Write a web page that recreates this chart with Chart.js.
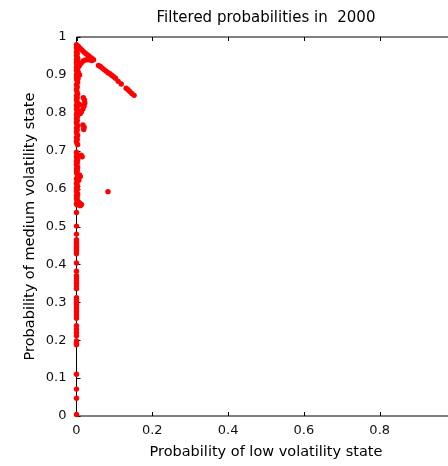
<!DOCTYPE html>
<html>
<head>
<meta charset="utf-8">
<script src="https://cdn.jsdelivr.net/npm/chart.js@4/dist/chart.umd.min.js"></script>
<style>
  html, body { margin: 0; padding: 0; background: #fff; overflow: hidden; }
  #wrap { width: 470px; height: 466px; }
</style>
</head>
<body>
<div id="wrap"><canvas id="probChart" width="470" height="466"></canvas></div>
<script>
// Data
const titleText = 'Filtered probabilities in  2000';
const xTitle = 'Probability of low volatility state';
const yTitle = 'Probability of medium volatility state';

const xTickValues = [0, 0.2, 0.4, 0.6, 0.8, 1];
const xTickLabels = ['0', '0.2', '0.4', '0.6', '0.8', '1'];
const yTickValues = [0, 0.1, 0.2, 0.3, 0.4, 0.5, 0.6, 0.7, 0.8, 0.9, 1];
const yTickLabels = ['0', '0.1', '0.2', '0.3', '0.4', '0.5', '0.6', '0.7', '0.8', '0.9', '1'];

// column hugging x = 0, upper part
const colLow = [0.000, 0.002, 0.000, 0.003, 0.001, 0.000, 0.002, 0.000, 0.001, 0.003, 0.000, 0.002, 0.000, 0.001, 0.003, 0.000,
  0.002, 0.000, 0.004, 0.001, 0.000, 0.003, 0.000, 0.001, 0.003, 0.000, 0.002, 0.000, 0.001, 0.003, 0.000, 0.002,
  0.000, 0.001, 0.003, 0.000, 0.002, 0.000, 0.004, 0.001, 0.000, 0.003, 0.000, 0.002, 0.000, 0.001, 0.003, 0.000,
  0.002, 0.000, 0.001, 0.003, 0.000, 0.002, 0.000, 0.001, 0.003, 0.000, 0.001, 0.002, 0.000, 0.001, 0.003, 0.000,
  0.002, 0.000, 0.001, 0.003, 0.000, 0.002, 0.000, 0.001, 0.003, 0.000, 0.002, 0.000, 0.001, 0.003, 0.000, 0.002,
  0.000, 0.001, 0.003, 0.000, 0.002, 0.000, 0.001, 0.004, 0.000, 0.002];
const colMed = [0.980, 0.976, 0.972, 0.968, 0.964, 0.960, 0.956, 0.952, 0.948, 0.944, 0.940, 0.936, 0.932, 0.928, 0.924, 0.920,
  0.916, 0.912, 0.908, 0.904, 0.900, 0.896, 0.892, 0.886, 0.880, 0.874, 0.868, 0.862, 0.856, 0.850, 0.845, 0.840,
  0.835, 0.830, 0.825, 0.820, 0.815, 0.810, 0.805, 0.800, 0.795, 0.790, 0.785, 0.780, 0.775, 0.770, 0.765, 0.760,
  0.755, 0.750, 0.745, 0.740, 0.735, 0.730, 0.725, 0.720, 0.716, 0.696, 0.692, 0.688, 0.684, 0.680, 0.676, 0.672,
  0.668, 0.664, 0.660, 0.656, 0.652, 0.648, 0.644, 0.640, 0.630, 0.626, 0.618, 0.614, 0.610, 0.606, 0.602, 0.598,
  0.594, 0.590, 0.586, 0.582, 0.578, 0.574, 0.570, 0.566, 0.560, 0.557];

// small bumps to the right of the column
const bumpLow = [0.018, 0.021, 0.022, 0.020, 0.017, 0.013, 0.010, 0.008, 0.017, 0.020, 0.019, 0.012, 0.015, 0.008, 0.010, 0.006, 0.008, 0.013, 0.010, 0.005, 0.008, 0.004];
const bumpMed = [0.840, 0.834, 0.826, 0.818, 0.810, 0.803, 0.798, 0.822, 0.768, 0.762, 0.756, 0.688, 0.684, 0.636, 0.632, 0.622, 0.562, 0.558, 0.555, 0.905, 0.900, 0.890];

// the small loop near the top and the tail going down-right
const capLow = [0.005, 0.010, 0.015, 0.020, 0.025, 0.030, 0.035, 0.040, 0.045,
  0.004, 0.008, 0.012, 0.017, 0.022, 0.028, 0.034, 0.040];
const capMed = [0.975, 0.970, 0.965, 0.960, 0.956, 0.952, 0.948, 0.944, 0.940,
  0.918, 0.925, 0.931, 0.936, 0.939, 0.940, 0.940, 0.938];
const tailLow = [0.058, 0.063, 0.068, 0.073, 0.078, 0.083, 0.088, 0.093, 0.098, 0.103, 0.110, 0.118, 0.131, 0.136, 0.141, 0.146, 0.152];
const tailMed = [0.925, 0.922, 0.918, 0.914, 0.910, 0.906, 0.903, 0.899, 0.895, 0.891, 0.883, 0.876, 0.865, 0.861, 0.856, 0.851, 0.846];

// lone point
const soloLow = [0.083];
const soloMed = [0.592];

// sparse lower part of the column
const lowerLow = [0, 0, 0, 0, 0, 0, 0, 0, 0, 0, 0, 0, 0, 0, 0, 0, 0, 0, 0, 0,
  0, 0, 0, 0, 0, 0, 0, 0, 0, 0, 0, 0, 0, 0, 0, 0, 0, 0, 0, 0];
const lowerMed = [0.537, 0.501, 0.480, 0.465, 0.460, 0.455, 0.450, 0.445, 0.440, 0.435, 0.428, 0.404, 0.382, 0.370, 0.364, 0.357, 0.350, 0.343, 0.336, 0.312,
  0.306, 0.300, 0.294, 0.288, 0.282, 0.276, 0.270, 0.264, 0.258, 0.238, 0.229, 0.220, 0.212, 0.198, 0.192, 0.188, 0.110, 0.071, 0.047, 0.004];

function pairs(xs, ys) {
    return xs.map((x, i) => ({ x: x, y: ys[i] }));
}

const points = [].concat(
    pairs(colLow, colMed),
    pairs(bumpLow, bumpMed),
    pairs(capLow, capMed),
    pairs(tailLow, tailMed),
    pairs(soloLow, soloMed),
    pairs(lowerLow, lowerMed)
);

// Matlab-like box with inward ticks
const boxAxes = {
    id: 'boxAxes',
    beforeDatasetsDraw(chart) {
        const { ctx, chartArea: a, scales } = chart;
        const tl = 4;
        ctx.save();
        ctx.strokeStyle = '#000';
        ctx.lineWidth = 1;
        ctx.beginPath();
        ctx.rect(a.left, a.top, a.right - a.left, a.bottom - a.top);
        xTickValues.forEach(v => {
            const px = Math.round(scales.x.getPixelForValue(v)) + 0.5;
            ctx.moveTo(px, a.bottom); ctx.lineTo(px, a.bottom - tl);
            ctx.moveTo(px, a.top); ctx.lineTo(px, a.top + tl);
        });
        yTickValues.forEach(v => {
            const py = Math.round(scales.y.getPixelForValue(v)) + 0.5;
            ctx.moveTo(a.left, py); ctx.lineTo(a.left + tl, py);
            ctx.moveTo(a.right, py); ctx.lineTo(a.right - tl, py);
        });
        ctx.stroke();
        ctx.restore();
    }
};

const fam = '"DejaVu Sans", Verdana, sans-serif';
const tickFont = { family: fam, size: 13 };
const titleFont = { family: fam, size: 14.5 };

new Chart(document.getElementById('probChart'), {
    type: 'scatter',
    data: {
        datasets: [{
            data: points,
            backgroundColor: '#ff0000',
            borderColor: '#ff0000',
            borderWidth: 0,
            pointRadius: 2.7,
            pointHoverRadius: 2.7,
            clip: false
        }]
    },
    options: {
        responsive: false,
        animation: false,
        devicePixelRatio: 1,
        layout: { padding: { top: 0, right: 14.5, bottom: 0, left: 0 } },
        plugins: {
            legend: { display: false },
            tooltip: { enabled: false },
            title: {
                display: true,
                text: titleText,
                fullSize: false,
                color: '#000',
                font: { family: fam, size: 15, weight: 'normal', lineHeight: 1.2 },
                padding: { top: 9, bottom: 10 }
            }
        },
        scales: {
            x: {
                type: 'linear',
                min: 0,
                max: 1,
                afterFit(scale) { scale.height = 50; },
                afterBuildTicks(scale) { scale.ticks = xTickValues.map(v => ({ value: v })); },
                grid: { display: false, drawTicks: false },
                border: { display: false },
                ticks: {
                    padding: 7,
                    color: '#111',
                    font: tickFont,
                    maxRotation: 0,
                    autoSkip: false,
                    callback: (v, i) => xTickLabels[i]
                },
                title: {
                    display: true,
                    text: xTitle,
                    color: '#000',
                    font: titleFont,
                    padding: { top: 0, bottom: 5 }
                }
            },
            y: {
                type: 'linear',
                min: 0,
                max: 1,
                afterFit(scale) { scale.width = 76.5; },
                afterBuildTicks(scale) { scale.ticks = yTickValues.map(v => ({ value: v })); },
                grid: { display: false, drawTicks: false },
                border: { display: false },
                ticks: {
                    padding: 10,
                    color: '#111',
                    font: tickFont,
                    autoSkip: false,
                    callback: (v, i) => yTickLabels[i]
                },
                title: {
                    display: true,
                    text: yTitle,
                    color: '#000',
                    font: titleFont,
                    padding: { top: 22, bottom: 0 }
                }
            }
        }
    },
    plugins: [boxAxes]
});
</script>
</body>
</html>
